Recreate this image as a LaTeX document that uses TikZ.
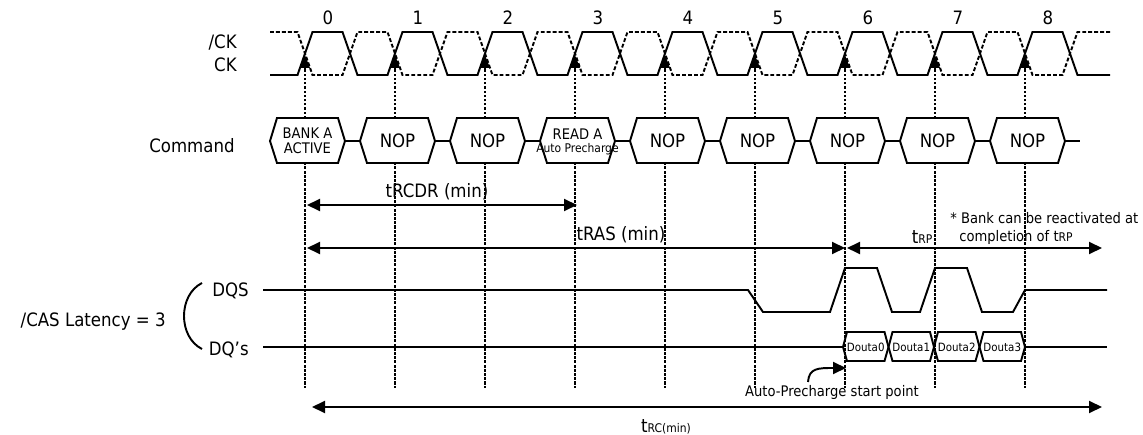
\documentclass[tikz,border=0pt]{standalone}
\usepackage{fontspec}
\setmainfont{DejaVu Sans Condensed}
\usetikzlibrary{arrows.meta}

\tikzset{
	wave/.style={line width=1.1pt},
	ckbar/.style={line width=1.1pt, dash pattern=on 2.2pt off 1.2pt},
	tick/.style={line width=1.5pt, dash pattern=on 1.3pt off 1.1pt},
	ticktip/.style={line width=1.1pt, -{Triangle[length=2.6mm,width=1.9mm]}},
	cmdbox/.style={line width=1.1pt, fill=white},
	dimarrow/.style={line width=1.1pt, {Triangle[length=2.6mm,width=2.4mm]}-{Triangle[length=2.6mm,width=2.4mm]}},
	bigtxt/.style={inner sep=0pt, font=\fontsize{10.5}{12}\selectfont},
	midtxt/.style={inner sep=0pt, font=\fontsize{8.3}{8.6}\selectfont},
	dattxt/.style={inner sep=0pt, font=\fontsize{6.5}{7}\selectfont}
}
\newcommand{\subtxt}[1]{{\fontsize{6.8}{7}\selectfont #1}}

\begin{document}
\begin{tikzpicture}[x=0.02cm,y=-0.02cm]
		\useasboundingbox (0,0) rectangle (1143,435);
		\draw[wave] (270,75) \foreach \k in {0,...,8} { -- ({297.5+90*\k},75) -- ({312.5+90*\k},32) -- ({342.5+90*\k},32) -- ({357.5+90*\k},75) } -- (1110,75);
		\draw[ckbar] (270,32) \foreach \k in {0,...,8} { -- ({297.5+90*\k},32) -- ({312.5+90*\k},75) -- ({342.5+90*\k},75) -- ({357.5+90*\k},32) } -- (1110,32);
		\foreach \k in {0,...,8} {
			\coordinate (top\k) at ({305+90*\k},55);
			\coordinate (bot\k) at ({305+90*\k},388);
			\node[bigtxt] (num\k) at ({328+90*\k},18) {\k};
			\draw[tick] (bot\k) -- ({305+90*\k},66);
			\draw[ticktip] ({305+90*\k},69) -- (top\k);
		}
		\foreach \k in {0,...,8} {
			\draw[wave] ({345+90*\k},141) -- ({360+90*\k},141);
			\draw[cmdbox] ({270+90*\k},141) -- ({277+90*\k},118) -- ({338+90*\k},118) -- ({345+90*\k},141) -- ({338+90*\k},163) -- ({277+90*\k},163) -- cycle;
		}
		\node[midtxt, align=center] (cmd0) at (307.5,141) {BANK A\\ACTIVE};
		\foreach \k in {1,2,4,5,6,7,8}
			\node[bigtxt] (cmd\k) at ({307.5+90*\k},141) {NOP};
		\node[midtxt, align=center] (cmd3) at (577.5,142) {READ A\\[-1pt]\subtxt{Auto Precharge}};
		\node[bigtxt, anchor=east] (ckbarlbl) at (237,43) {/CK};
		\node[bigtxt, anchor=east] (cklbl) at (237,65) {CK};
		\node[bigtxt, anchor=east] (cmdlbl) at (235,146) {Command};
		\node[bigtxt, anchor=east] (dqslbl) at (249,291) {DQS};
		\node[bigtxt, anchor=east] (dqlbl) at (249,350) {DQ’s};
		\node[bigtxt, anchor=east] (cllbl) at (166,322) {/CAS Latency = 3};
		\draw[wave] (202,283) .. controls (178,295) and (178,337) .. (202,349);
		\draw[wave] (263,290) -- (748,290) -- (763,312) -- (830,312) -- (845,268) -- (877,268) -- (892,312) -- (920,312) -- (935,268) -- (967,268) -- (982,312) -- (1013,312) -- (1025,290) -- (1107,290);
		\draw[wave] (263,347) -- (843,347);
		\draw[wave] (1025,347) -- (1107,347);
		\foreach \k/\d in {0/Douta0,1/Douta1,2/Douta2,3/Douta3} {
			\draw[wave] ({843+45.5*\k},347) -- ({847+45.5*\k},332) -- ({884.5+45.5*\k},332) -- ({888.5+45.5*\k},347) -- ({884.5+45.5*\k},361) -- ({847+45.5*\k},361) -- cycle;
			\node[dattxt] (dout\k) at ({865.75+45.5*\k},347) {\d};
		}
		\coordinate (rcdrA) at (307,205);
		\coordinate (rcdrB) at (577,205);
		\coordinate (rasA) at (307,248);
		\coordinate (rasB) at (845,248);
		\coordinate (rpA) at (847,248);
		\coordinate (rpB) at (1102,248);
		\coordinate (rcA) at (312,407);
		\coordinate (rcB) at (1102,407);
		\draw[dimarrow] (rcdrA) -- (rcdrB);
		\draw[dimarrow] (rasA) -- (rasB);
		\draw[dimarrow] (rpA) -- (rpB);
		\draw[dimarrow] (rcA) -- (rcB);
		\node[bigtxt] (rcdrlbl) at (437,192) {tRCDR (min)};
		\node[bigtxt] (raslbl) at (621,235) {tRAS (min)};
		\node[bigtxt] (rplbl) at (922,237) {t\subtxt{RP}};
		\node[bigtxt] (rclbl) at (666,427) {t\subtxt{RC(min)}};
		\node[midtxt, anchor=west] (note1) at (950,218) {* Bank can be reactivated at};
		\node[midtxt, anchor=west] (note2) at (959,237) {completion of t\subtxt{RP}};
		\node[midtxt] (aplbl) at (832,392) {Auto-Precharge start point};
		\coordinate (apA) at (808,382);
		\coordinate (apB) at (846,368);
		\draw[line width=1.1pt, -{Triangle[length=2.6mm,width=2.4mm]}] (apA) .. controls (809,368) and (818,368) .. (apB);
		\foreach \k in {0,...,8}
			\draw[tick] ({305+90*\k},163) -- (bot\k);
	\end{tikzpicture}
\end{document}
